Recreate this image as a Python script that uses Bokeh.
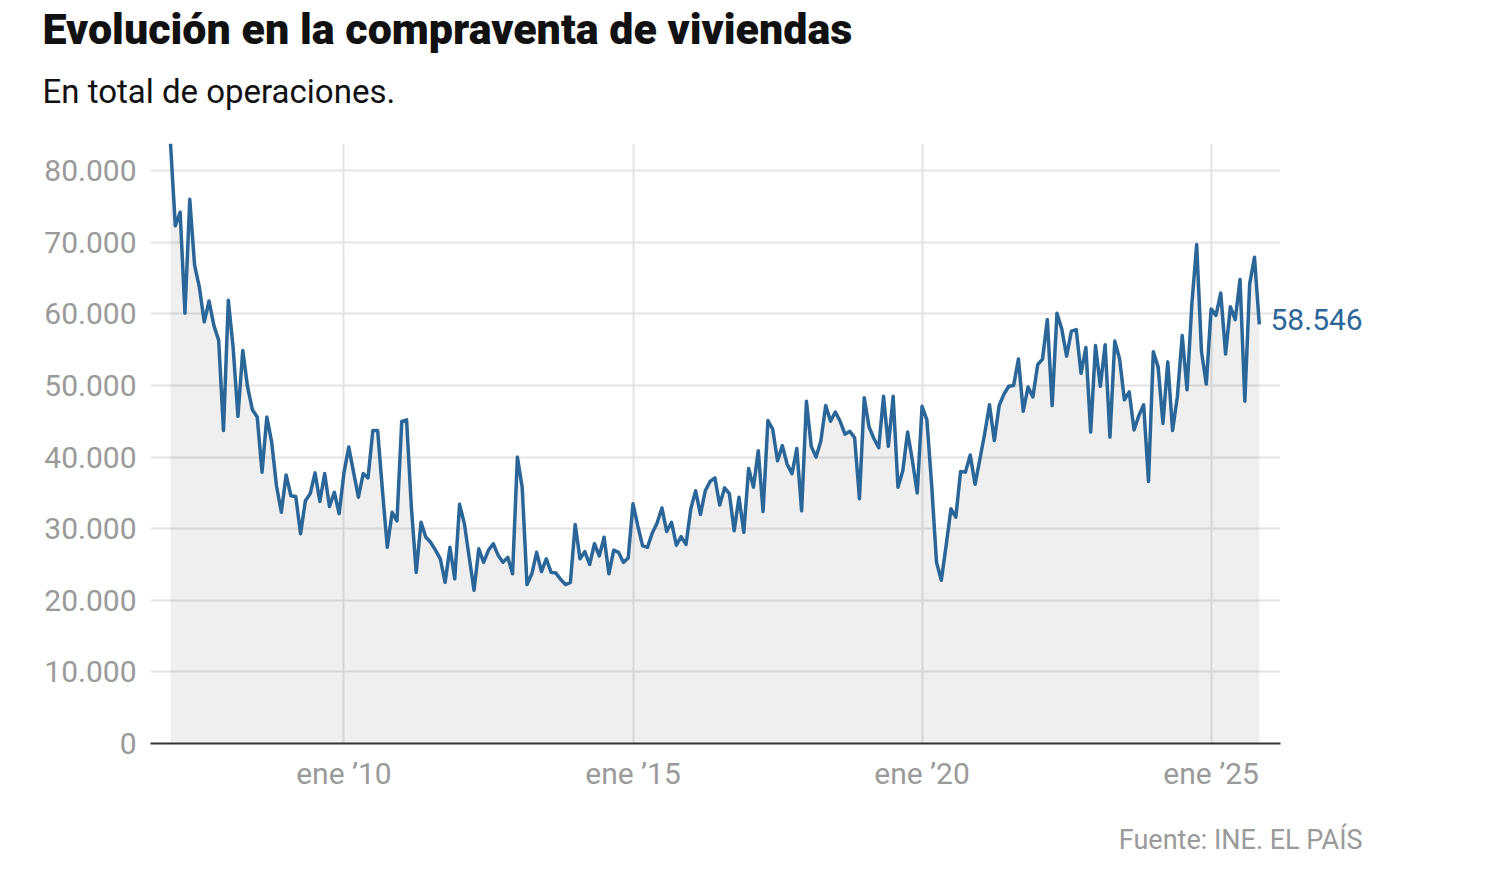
from bokeh.plotting import figure
from bokeh.models import FixedTicker, Range1d, ColumnDataSource, Title, LinearAxis
from bokeh.embed import file_html
from bokeh.resources import INLINE

# ---- data (monthly, Jan 2007 onward) ----
start_year = 2007
values = [
    83800, 72300, 74200, 60100, 76000, 66800, 63700, 58900, 61800, 58400, 56300, 43700,  # 2007
    61900, 55300, 45700, 54900, 49800, 46600, 45600, 37900, 45600, 42100, 36000, 32300,  # 2008
    37500, 34600, 34500, 29300, 33900, 34900, 37800, 33800, 37700, 33100, 35100, 32100,  # 2009
    37800, 41400, 37900, 34400, 37700, 37100, 43700, 43700, 35300, 27400, 32300, 31100,  # 2010
    45000, 45200, 33000, 23900, 30900, 28800, 28100, 27000, 25800, 22500, 27400, 23000,  # 2011
    33400, 30700, 26000, 21400, 27200, 25300, 27000, 27900, 26300, 25300, 26000, 23700,  # 2012
    40000, 35800, 22200, 23700, 26700, 24000, 25800, 23900, 23800, 22900, 22200, 22500,  # 2013
    30600, 25800, 26800, 25000, 27900, 26200, 28800, 23700, 27000, 26700, 25300, 25900,  # 2014
    33500, 30400, 27600, 27400, 29400, 30800, 32900, 29600, 30900, 27700, 28900, 27800,  # 2015
    32800, 35300, 32000, 35300, 36600, 37100, 33300, 35700, 34900, 29700, 34400, 29500,  # 2016
    38400, 35800, 40900, 32400, 45100, 43900, 39500, 41600, 39000, 37700, 41200, 32500,  # 2017
    47800, 41500, 40000, 42300, 47200, 45000, 46300, 45000, 43200, 43600, 42700, 34200,  # 2018
    48300, 44200, 42600, 41300, 48500, 41500, 48500, 35800, 38100, 43500, 39500, 35000,  # 2019
    47100, 45200, 36000, 25300, 22800, 27700, 32800, 31600, 38000, 37900, 40300, 36200,  # 2020
    39700, 43300, 47300, 42300, 47200, 48800, 49900, 50000, 53700, 46400, 49800, 48400,  # 2021
    52900, 53700, 59200, 47200, 60100, 57900, 54100, 57600, 57800, 51700, 55300, 43500,  # 2022
    55600, 49900, 55700, 42800, 56200, 53700, 48000, 49100, 43800, 45800, 47300, 36600,  # 2023
    54700, 52600, 44700, 53300, 43700, 48500, 57000, 49400, 61400, 69700, 54700, 50200,  # 2024
    60700, 59800, 62900, 54400, 61000, 59200, 64800, 47800, 64200, 67900, 58546,         # 2025
]
months = [start_year + i / 12 for i in range(len(values))]

x_ticks = [2010, 2015, 2020, 2025]
x_tick_labels = ["ene ’10", "ene ’15", "ene ’20", "ene ’25"]
y_ticks = [0, 10000, 20000, 30000, 40000, 50000, 60000, 70000, 80000]
y_tick_labels = ["0", "10.000", "20.000", "30.000", "40.000", "50.000", "60.000", "70.000", "80.000"]

title = "Evolución en la compraventa de viviendas"
subtitle = "En total de operaciones."
source_note = "Fuente: INE. EL PAÍS"

BLUE = "#2b6699"
GREY_TXT = "#9a9a9a"
FONT = "Roboto"
Y_MAX = 83800

src = ColumnDataSource(dict(x=months, y=values, zero=[0] * len(values)))

p = figure(width=1400, height=884, output_backend="svg", toolbar_location=None, title=None,
           x_range=Range1d(2006.654, 2026.2), y_range=Range1d(0, Y_MAX),
           min_border_left=150, min_border_right=120, min_border_top=143, min_border_bottom=141)
p.outline_line_color = None
p.background_fill_color = "white"
p.border_fill_color = "white"

p.varea(x="x", y1="zero", y2="y", source=src, fill_color="black", fill_alpha=0.063)
p.line(x="x", y="y", source=src, line_color=BLUE, line_width=3.5, line_join="round")

# axes
p.xaxis.ticker = FixedTicker(ticks=x_ticks)
p.xaxis.major_label_overrides = {t: l for t, l in zip(x_ticks, x_tick_labels)}
p.yaxis.ticker = FixedTicker(ticks=y_ticks)
p.yaxis.major_label_overrides = {t: l for t, l in zip(y_ticks, y_tick_labels)}

# right-hand axis used only to print the last value next to the line end
# (its range is nudged ~5px so the label sits just above the line end)
nudge = Y_MAX / 600 * 5
p.extra_y_ranges = {"endlabel": Range1d(-nudge, Y_MAX - nudge)}
end_txt = f"{values[-1]:,}".replace(",", ".")
end_axis = LinearAxis(y_range_name="endlabel", ticker=FixedTicker(ticks=[values[-1]]),
                      major_label_overrides={values[-1]: end_txt})
p.add_layout(end_axis, "right")

for ax in (p.xaxis[0], p.yaxis[0], end_axis):
    ax.major_tick_line_color = None
    ax.minor_tick_line_color = None
    ax.major_tick_out = 0
    ax.major_tick_in = 0
    ax.major_label_text_font = FONT
    ax.major_label_text_font_size = "30px"
    ax.major_label_text_color = GREY_TXT
p.yaxis[0].axis_line_color = None
p.yaxis[0].major_label_standoff = 14
end_axis.axis_line_color = None
end_axis.major_label_standoff = -10
end_axis.major_label_text_color = BLUE
p.xaxis[0].axis_line_color = "#333333"
p.xaxis[0].axis_line_width = 2
p.xaxis[0].major_label_standoff = 12

p.xgrid.ticker = FixedTicker(ticks=x_ticks)
p.ygrid.ticker = FixedTicker(ticks=y_ticks[1:])
for g in (p.xgrid, p.ygrid):
    g.grid_line_color = "#e4e4e4"
    g.grid_line_width = 2

# titles (subtitle first: it sits closest to the plot)
p.add_layout(Title(text=subtitle, align="left", offset=-108, standoff=65,
                   text_font=FONT, text_font_style="normal", text_font_size="33px",
                   text_color="#111111"), "above")
p.add_layout(Title(text=title, align="left", offset=-108, standoff=-33,
                   text_font="Roboto Black", text_font_style="bold", text_font_size="43px",
                   text_color="#111111"), "above")
p.add_layout(Title(text=source_note, align="right", offset=-82, standoff=57,
                   text_font=FONT, text_font_style="normal", text_font_size="27px",
                   text_color=GREY_TXT), "below")

open("out.html", "w").write(file_html(p, INLINE))
